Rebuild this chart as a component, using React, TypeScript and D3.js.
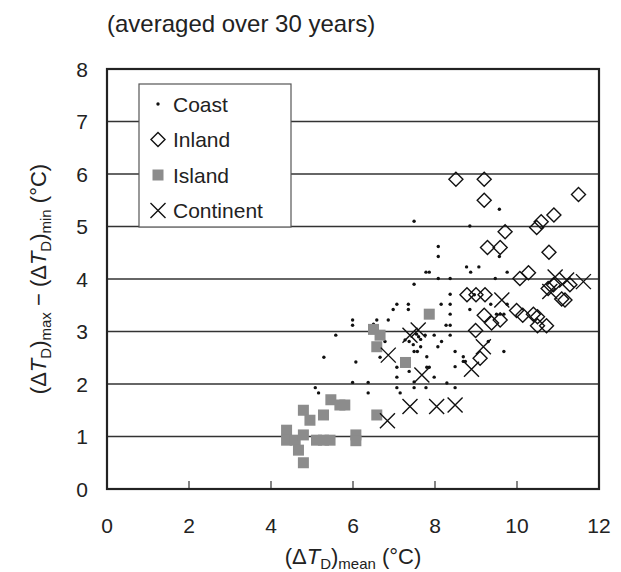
import React from "react";
import * as d3 from "d3";

const xTicks = [0, 2, 4, 6, 8, 10, 12];
const yTicks = [0, 1, 2, 3, 4, 5, 6, 7, 8];
const legendLabels = ["Coast", "Inland", "Island", "Continent"];

const coast: [number, number][] = [
  [7.49, 5.10], [8.85, 5.01], [9.57, 5.33],
  [8.08, 4.62], [8.08, 4.43], [9.57, 4.43],
  [7.78, 4.13], [7.86, 4.13], [8.77, 4.23], [8.87, 4.13], [9.07, 4.23], [9.76, 4.13],
  [7.49, 3.90], [8.08, 4.01], [8.37, 4.01], [9.47, 4.01],
  [8.37, 3.71], [8.37, 3.52], [8.37, 3.33], [8.37, 3.12], [8.37, 2.93],
  [8.15, 3.52], [8.85, 3.42], [8.96, 3.70], [9.36, 3.52], [9.76, 3.52],
  [9.50, 3.33], [9.59, 3.33], [9.68, 3.33],
  [7.07, 3.52], [6.98, 3.42], [7.35, 3.52], [7.35, 3.42],
  [5.99, 3.22], [5.99, 3.12], [6.58, 3.22], [6.86, 3.22], [6.50, 3.14],
  [5.58, 2.93], [6.78, 2.81], [7.98, 2.93], [7.76, 2.93], [8.16, 2.81], [8.07, 2.71],
  [7.65, 2.71], [7.49, 2.62], [7.57, 2.62], [7.37, 2.81], [7.80, 2.52],
  [8.49, 2.62], [8.69, 2.52], [8.69, 2.43], [8.74, 2.43], [8.49, 2.33],
  [5.29, 2.51], [6.07, 2.42], [6.66, 2.51],
  [7.07, 2.32], [7.07, 2.13], [7.37, 2.24], [7.80, 2.32], [7.86, 2.32], [7.98, 2.13],
  [5.99, 2.03], [6.37, 2.03], [6.37, 1.83],
  [7.07, 1.93], [7.15, 1.83], [7.49, 1.93], [7.78, 1.93], [8.29, 2.02], [8.49, 1.93],
  [5.08, 1.93], [5.16, 1.83],
  [9.68, 2.62], [9.30, 2.81], [8.27, 3.12], [7.49, 2.04],
  [7.55, 2.95], [7.60, 2.90], [7.47, 2.75], [7.65, 2.85], [7.27, 2.84],
];

const inland: [number, number][] = [
  [8.51, 5.90], [9.20, 5.90], [9.20, 5.50], [11.50, 5.61], [10.90, 5.22],
  [10.59, 5.09], [10.48, 4.98], [9.71, 4.90], [9.28, 4.60], [9.59, 4.60],
  [10.78, 4.51], [10.28, 4.12], [10.07, 4.01],
  [8.78, 3.70], [9.00, 3.70], [9.22, 3.70],
  [10.76, 3.82], [10.89, 3.89], [11.29, 3.89], [11.09, 3.62], [11.17, 3.60],
  [9.99, 3.40], [10.14, 3.31], [10.40, 3.33], [10.50, 3.28], [10.50, 3.11], [10.72, 3.11],
  [9.20, 3.31], [9.38, 3.16], [9.59, 3.22], [8.99, 3.02], [9.10, 2.49],
];

const island: [number, number][] = [
  [4.38, 1.12], [4.38, 0.93], [4.59, 0.93], [4.79, 1.03], [4.79, 1.50],
  [4.95, 1.31], [4.67, 0.74], [4.79, 0.50], [5.28, 1.41], [5.46, 1.70],
  [5.68, 1.60], [5.80, 1.60], [5.11, 0.93], [5.28, 0.93], [5.44, 0.93],
  [6.07, 1.03], [6.07, 0.92], [6.50, 3.04], [6.66, 2.93], [6.58, 2.71],
  [7.28, 2.41], [7.86, 3.33], [6.58, 1.41],
];

const continent: [number, number][] = [
  [6.86, 2.55], [6.84, 1.30], [7.39, 1.57], [8.04, 1.57], [8.49, 1.60],
  [7.39, 2.93], [7.59, 3.03], [7.68, 2.17], [8.89, 2.28], [9.18, 2.71],
  [9.63, 3.60], [10.80, 3.76], [10.93, 4.04], [11.21, 3.98], [11.62, 3.95],
];

const W = 621;
const H = 572;
const left = 107, right = 599, top = 69, bottom = 489;
const FONT = "'Liberation Sans', Arial, sans-serif";

const x = d3.scaleLinear().domain([0, 12]).range([left, right]);
const y = d3.scaleLinear().domain([0, 8]).range([bottom, top]);

const diamondPath = (cx: number, cy: number, r: number) =>
  `M${cx},${cy - r}L${cx + r},${cy}L${cx},${cy + r}L${cx - r},${cy}Z`;
const crossPath = (cx: number, cy: number, r: number) =>
  `M${cx - r},${cy - r}L${cx + r},${cy + r}M${cx - r},${cy + r}L${cx + r},${cy - r}`;

function Marker({ kind, cx, cy }: { kind: number; cx: number; cy: number }) {
  if (kind === 0) return <circle cx={cx} cy={cy} r={1.7} fill="#111" />;
  if (kind === 1)
    return <path d={diamondPath(cx, cy, 7)} fill="none" stroke="#111" strokeWidth={1.4} />;
  if (kind === 2)
    return <rect x={cx - 5.5} y={cy - 5.5} width={11} height={11} fill="#8c8c8c" />;
  return <path d={crossPath(cx, cy, 7.5)} fill="none" stroke="#111" strokeWidth={1.4} />;
}

export default function App() {
  const legX = 139, legY = 84, legW = 152, legH = 143;
  const series = [coast, inland, island, continent];
  return (
    <svg width={W} height={H} style={{ position: "absolute", left: 0, top: 0 }} fontFamily={FONT}>
      <rect width={W} height={H} fill="#fff" />
      <text x={107} y={32} fontSize={24} fill="#222">(averaged over 30 years)</text>
      {/* grid */}
      {yTicks.slice(1, -1).map((t) => (
        <line key={t} x1={left} x2={right} y1={y(t)} y2={y(t)} stroke="#333" strokeWidth={1.3} />
      ))}
      {xTicks.slice(1, -1).map((t) => (
        <line key={t} x1={x(t)} x2={x(t)} y1={bottom} y2={bottom - 8} stroke="#333" strokeWidth={1.2} />
      ))}
      {/* data */}
      {series.map((s, k) =>
        s.map((d, i) => <Marker key={`${k}-${i}`} kind={k} cx={x(d[0])} cy={y(d[1])} />)
      )}
      {/* legend */}
      <rect x={legX} y={legY} width={legW} height={legH} fill="#fff" stroke="#555" strokeWidth={1.2} />
      {legendLabels.map((l, i) => {
        const cy = legY + 20 + i * 35.5;
        return (
          <g key={l}>
            <Marker kind={i} cx={158} cy={cy} />
            <text x={173} y={cy} dy="0.36em" fontSize={21} fill="#222">{l}</text>
          </g>
        );
      })}
      {/* frame */}
      <rect x={left} y={top} width={right - left} height={bottom - top} fill="none" stroke="#222" strokeWidth={2.2} />
      {/* tick labels */}
      {xTicks.map((t) => (
        <text key={t} x={x(t)} y={533} fontSize={21} textAnchor="middle" fill="#222">{t}</text>
      ))}
      {yTicks.map((t) => (
        <text key={t} x={88} y={y(t)} dy="0.36em" fontSize={21} textAnchor="end" fill="#222">{t}</text>
      ))}
      {/* x axis title */}
      <text x={353} y={564} fontSize={22} textAnchor="middle" fill="#222">
        (Δ<tspan fontStyle="italic">T</tspan>
        <tspan fontSize={15} dy={5}>D</tspan>
        <tspan dy={-5}>)</tspan>
        <tspan fontSize={15} dy={5}>mean</tspan>
        <tspan dy={-5}> (°C)</tspan>
      </text>
      {/* y axis title */}
      <text transform={`translate(46,${(top + bottom) / 2}) rotate(-90)`} fontSize={22} textAnchor="middle" fill="#222">
        (Δ<tspan fontStyle="italic">T</tspan>
        <tspan fontSize={15} dy={5}>D</tspan>
        <tspan dy={-5}>)</tspan>
        <tspan fontSize={15} dy={5}>max</tspan>
        <tspan dy={-5}> − (Δ</tspan>
        <tspan fontStyle="italic">T</tspan>
        <tspan fontSize={15} dy={5}>D</tspan>
        <tspan dy={-5}>)</tspan>
        <tspan fontSize={15} dy={5}>min</tspan>
        <tspan dy={-5}> (°C)</tspan>
      </text>
    </svg>
  );
}
